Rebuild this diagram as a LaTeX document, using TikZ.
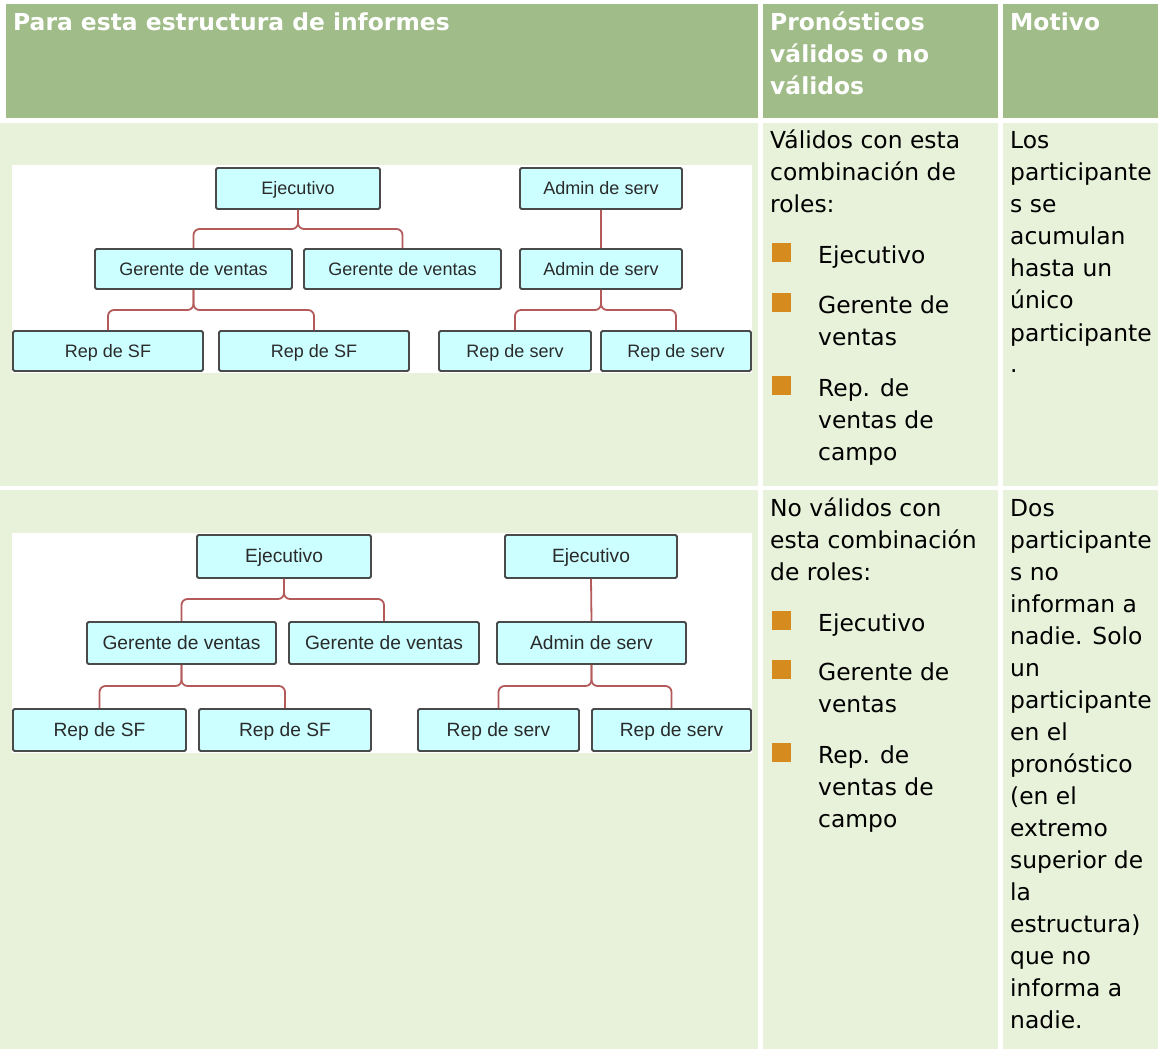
\documentclass[tikz,border=0pt]{standalone}
\usepackage{fontspec}
\setmainfont{DejaVu Sans}
\newfontfamily\boxfont{Liberation Sans}
\definecolor{hdr}{HTML}{A0BC88}
\definecolor{cellbg}{HTML}{E8F2DA}
\definecolor{boxfill}{HTML}{CCFFFF}
\definecolor{boxline}{HTML}{4A4A4A}
\definecolor{boxtext}{HTML}{2A2A2A}
\definecolor{connred}{HTML}{B55A5A}
\definecolor{bulletor}{HTML}{D68B1E}
\newcommand\celltxt[1]{\parbox[t]{240pt}{\fontsize{23.4}{32}\selectfont\raggedright #1}}
\newcommand\hdrtxt[1]{\parbox[t]{700pt}{\fontsize{23.4}{32}\selectfont\bfseries\raggedright #1}}
\tikzset{
  obox/.style={draw=boxline, line width=1.9pt, fill=boxfill, rounded corners=1.5pt,
    inner sep=0pt, text=boxtext, text height=12.9pt, text depth=0pt},
  oboxa/.style={obox, font=\boxfont\fontsize{18}{20}\selectfont},
  oboxb/.style={obox, font=\boxfont\fontsize{19.2}{21}\selectfont},
  conn/.style={draw=connred, line width=1.8pt, rounded corners=6pt},
  txt/.style={anchor=base west, inner sep=0pt, text=black},
  htxt/.style={anchor=base west, inner sep=0pt, text=white},
  bsq/.style={fill=bulletor, draw=none, inner sep=0pt, minimum size=19pt, anchor=south west}
}
\begin{document}
\begin{tikzpicture}[x=1pt,y=-1pt]
\useasboundingbox (0,0) rectangle (1158,1051);
\fill[white] (0,0) rectangle (1158,1051);
% header
\fill[hdr] (6,4) rectangle (758,118);
\fill[hdr] (763,4) rectangle (998,118);
\fill[hdr] (1003,4) rectangle (1158,118);
% rows
\fill[cellbg] (0,123) rectangle (758,486);
\fill[cellbg] (763,123) rectangle (998,486);
\fill[cellbg] (1003,123) rectangle (1158,486);
\fill[cellbg] (0,490) rectangle (758,1049);
\fill[cellbg] (763,490) rectangle (998,1049);
\fill[cellbg] (1003,490) rectangle (1158,1049);
% header texts
\node[htxt] (h1) at (13,31) {\hdrtxt{Para esta estructura de informes}};
\node[htxt] (h2) at (770,31) {\hdrtxt{Pronósticos\\válidos o no\\válidos}};
\node[htxt] (h3) at (1010,31) {\hdrtxt{Motivo}};
% diagram images
\fill[white] (12,165) rectangle (752,373);
\fill[white] (12,533) rectangle (752,753);

% ---------- diagram 1 ----------
\node[oboxa, minimum width=164pt, minimum height=41pt] (e1) at (298,188.5) {Ejecutivo};
\node[oboxa, minimum width=197pt, minimum height=40pt] (g1) at (193.5,269) {Gerente de ventas};
\node[oboxa, minimum width=197pt, minimum height=40pt] (g2) at (402.5,269) {Gerente de ventas};
\node[oboxa, minimum width=190pt, minimum height=40pt] (s1) at (108,351) {Rep de SF};
\node[oboxa, minimum width=190pt, minimum height=40pt] (s2) at (314,351) {Rep de SF};
\node[oboxa, minimum width=162pt, minimum height=41pt] (a1) at (601,188.5) {Admin de serv};
\node[oboxa, minimum width=162pt, minimum height=40pt] (a2) at (601,269) {Admin de serv};
\node[oboxa, minimum width=152pt, minimum height=40pt] (r1) at (515,351) {Rep de serv};
\node[oboxa, minimum width=150pt, minimum height=40pt] (r2) at (676,351) {Rep de serv};
\coordinate (L1) at (0,229);
\coordinate (L2) at (0,310);
\draw[conn] (g1.north) |- (e1.south |- L1) -- (e1.south);
\draw[conn] (g2.north) |- (e1.south |- L1) -- (e1.south);
\draw[conn] (s1.north) |- (g1.south |- L2) -- (g1.south);
\draw[conn] (s2.north) |- (g1.south |- L2) -- (g1.south);
\draw[conn] (a1.south) -- (a2.north);
\draw[conn] (r1.north) |- (a2.south |- L2) -- (a2.south);
\draw[conn] (r2.north) |- (a2.south |- L2) -- (a2.south);

% ---------- diagram 2 ----------
\node[oboxb, minimum width=174pt, minimum height=43pt] (f1) at (284,556.5) {Ejecutivo};
\node[oboxb, minimum width=189pt, minimum height=42pt] (k1) at (181.5,643) {Gerente de ventas};
\node[oboxb, minimum width=190pt, minimum height=42pt] (k2) at (384,643) {Gerente de ventas};
\node[oboxb, minimum width=173pt, minimum height=42pt] (t1) at (99.5,730) {Rep de SF};
\node[oboxb, minimum width=172pt, minimum height=42pt] (t2) at (285,730) {Rep de SF};
\node[oboxb, minimum width=172pt, minimum height=43pt] (f2) at (591,556.5) {Ejecutivo};
\node[oboxb, minimum width=189pt, minimum height=42pt] (b2) at (591.5,643) {Admin de serv};
\node[oboxb, minimum width=161pt, minimum height=42pt] (u1) at (498.5,730) {Rep de serv};
\node[oboxb, minimum width=159pt, minimum height=42pt] (u2) at (671.5,730) {Rep de serv};
\coordinate (M1) at (0,599);
\coordinate (M2) at (0,686);
\draw[conn] (k1.north) |- (f1.south |- M1) -- (f1.south);
\draw[conn] (k2.north) |- (f1.south |- M1) -- (f1.south);
\draw[conn] (t1.north) |- (k1.south |- M2) -- (k1.south);
\draw[conn] (t2.north) |- (k1.south |- M2) -- (k1.south);
\draw[conn] (f2.south) -- (b2.north);
\draw[conn] (u1.north) |- (b2.south |- M2) -- (b2.south);
\draw[conn] (u2.north) |- (b2.south |- M2) -- (b2.south);

% ---------- row 1 texts ----------
\node[txt] (v1) at (770,149) {\celltxt{Válidos con esta\\combinación de\\roles:}};
\node[bsq] (q11) at (772,262) {};
\node[txt] (b11) at (818,263) {\celltxt{Ejecutivo}};
\node[bsq] (q12) at (772,312) {};
\node[txt] (b12) at (818,313) {\celltxt{Gerente de\\ventas}};
\node[bsq] (q13) at (772,395) {};
\node[txt] (b13) at (818,396) {\celltxt{Rep. de\\ventas de\\campo}};
\node[txt] (m1) at (1010,149) {\celltxt{Los\\participante\\s se\\acumulan\\hasta un\\único\\participante\\.}};

% ---------- row 2 texts ----------
\node[txt] (v2) at (770,516) {\celltxt{No válidos con\\esta combinación\\de roles:}};
\node[bsq] (q21) at (772,630) {};
\node[txt] (b21) at (818,631) {\celltxt{Ejecutivo}};
\node[bsq] (q22) at (772,679) {};
\node[txt] (b22) at (818,680) {\celltxt{Gerente de\\ventas}};
\node[bsq] (q23) at (772,762) {};
\node[txt] (b23) at (818,763) {\celltxt{Rep. de\\ventas de\\campo}};
\node[txt] (m2) at (1010,516) {\celltxt{Dos\\participante\\s no\\informan a\\nadie. Solo\\un\\participante\\en el\\pronóstico\\(en el\\extremo\\superior de\\la\\estructura)\\que no\\informa a\\nadie.}};
\end{tikzpicture}
\end{document}
